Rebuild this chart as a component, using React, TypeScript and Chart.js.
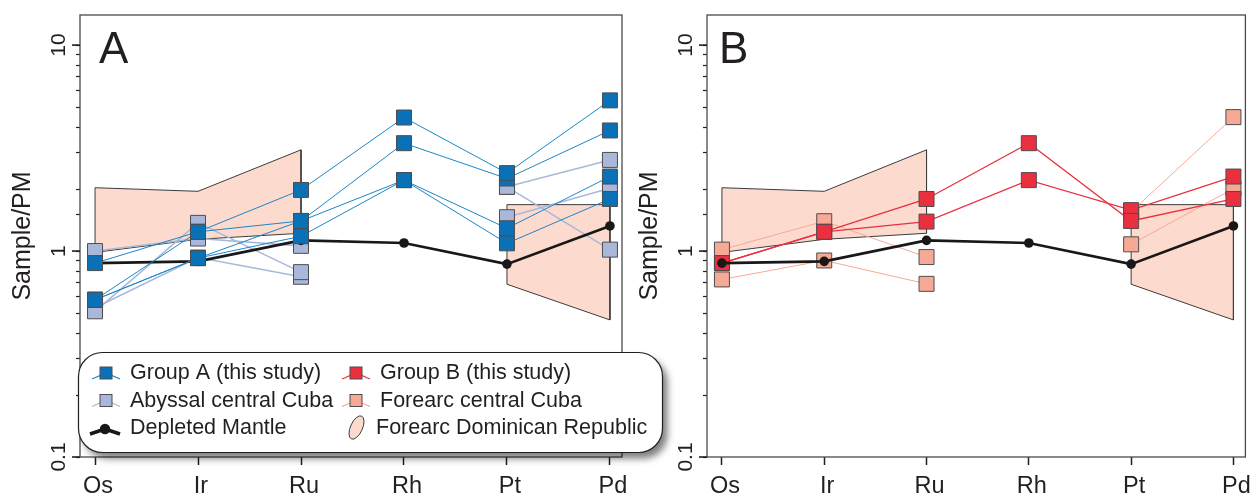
import React, { useEffect, useRef } from 'react';
import { Chart, registerables } from 'chart.js';
Chart.register(...registerables);

// ---------- data ----------
const elements = ['Os', 'Ir', 'Ru', 'Rh', 'Pt', 'Pd'];
const yTickValues = [0.1, 1, 10];
const yTickLabels = ['0.1', '1', '10'];

// Panel A – Group A (this study)
const groupA1 = [0.874, 1.24, 1.98, 4.45, 2.39, 5.39];
const groupA2 = [0.58, 1.24, 1.4, 3.34, 2.25, 3.85];
const groupA3 = [0.58, 0.924, 1.4, 2.21, 1.29, 2.3];
const groupA4 = [0.58, 0.924, 1.18, 2.21, 1.09, 1.79];
// Panel A – Abyssal central Cuba
const abyssal1 = [1.0, 1.15, 1.06, null, 2.05, 2.77];
const abyssal2 = [0.51, 1.37, 0.79, null, 2.05, 1.016];
const abyssal3 = [0.53, 0.93, 0.75, null, 1.46, 2.02];
// Panel B – Group B (this study)
const groupB1 = [0.874, 1.24, 1.79, 3.34, 1.4, 1.79];
const groupB2 = [0.874, 1.24, 1.39, 2.21, 1.58, 2.3];
// Panel B – Forearc central Cuba
const forearc1 = [1.016, 1.396, 0.935, null, 1.55, 4.47];
const forearc2 = [0.728, 0.9, 0.693, null, 1.078, 2.01];
// Depleted Mantle
const depletedMantle = [0.874, 0.891, 1.127, 1.094, 0.864, 1.324];
// Forearc Dominican Republic field
const dominicanLeftIdx = [0, 1, 2];
const dominicanLeftUpper = [2.03, 1.95, 3.1];
const dominicanLeftLower = [0.985, 1.14, 1.22];
const dominicanRightIdx = [4, 5];
const dominicanRightUpper = [1.68, 1.68];
const dominicanRightLower = [0.69, 0.463];

// ---------- styles ----------
const TEXT = '#231F20';
const FONT = '"Liberation Sans", Arial, sans-serif';
const BLUE = '#0B71B6';
const BLUE_LINE = '#1B87C8';
const ABYSSAL = '#A9B8DA';
const RED = '#EA303E';
const SALMON = '#F6A995';
const BAND = '#FCDBCE';
const DM = '#1A1718';
const MARKER_EDGE = '#4D4D4F';

const toPts = (arr: (number | null)[]) => arr.map((v, i) => ({ x: i, y: v }));

function sampleDs(values: (number | null)[], fill: string, line: string, lw: number, order: number) {
  return {
    data: toPts(values),
    borderColor: line,
    borderWidth: lw,
    backgroundColor: fill,
    pointBackgroundColor: fill,
    pointBorderColor: MARKER_EDGE,
    pointBorderWidth: 1,
    pointStyle: 'rect',
    pointRadius: 10.6,
    fill: false,
    spanGaps: false,
    order,
  };
}

function bandDs(idx: number[], upper: number[], lower: number[]) {
  const pts: { x: number; y: number }[] = [];
  idx.forEach((x, i) => pts.push({ x, y: upper[i] }));
  for (let i = idx.length - 1; i >= 0; i--) pts.push({ x: idx[i], y: lower[i] });
  pts.push({ x: idx[0], y: upper[0] });
  return {
    data: pts,
    borderColor: '#3C3C3C',
    borderWidth: 1,
    backgroundColor: BAND,
    fill: 'shape',
    pointRadius: 0,
    order: 10,
  };
}

function dmDs(order: number) {
  return {
    data: toPts(depletedMantle),
    borderColor: DM,
    borderWidth: 2.6,
    pointStyle: 'circle',
    pointRadius: 4.8,
    pointBackgroundColor: DM,
    pointBorderWidth: 0,
    fill: false,
    order,
  };
}

function makeScales() {
  return {
    x: {
      type: 'linear',
      min: -0.146,
      max: 5.117,
      afterBuildTicks: (s: any) => {
        s.ticks = elements.map((_, i) => ({ value: i }));
      },
      afterFit: (s: any) => {
        s.height = 38;
      },
      ticks: {
        callback: (v: any) => elements[v] ?? '',
        font: { family: FONT, size: 23.5 },
        color: TEXT,
        padding: 7,
        maxRotation: 0,
        autoSkip: false,
        labelOffset: 3,
      },
      grid: { drawOnChartArea: false, drawTicks: true, tickLength: 8, tickColor: TEXT, tickWidth: 1.5 },
      border: { display: false },
    },
    y: {
      type: 'logarithmic',
      min: 0.1,
      max: 14,
      afterBuildTicks: (s: any) => {
        s.ticks = s.ticks.filter((t: any) => t.value <= 10.0001);
      },
      afterFit: (s: any) => {
        s.width = 80;
      },
      ticks: { display: false },
      grid: { drawOnChartArea: false, drawTicks: true, tickLength: 4, tickColor: TEXT, tickWidth: 1.2 },
      border: { display: false },
      title: {
        display: true,
        text: 'Sample/PM',
        font: { family: FONT, size: 25 },
        color: TEXT,
        padding: { top: 8, bottom: 0 },
      },
    },
  };
}

function roundRectPath(ctx: CanvasRenderingContext2D, x: number, y: number, w: number, h: number, r: number) {
  ctx.beginPath();
  ctx.moveTo(x + r, y);
  ctx.lineTo(x + w - r, y);
  ctx.arcTo(x + w, y, x + w, y + r, r);
  ctx.lineTo(x + w, y + h - r);
  ctx.arcTo(x + w, y + h, x + w - r, y + h, r);
  ctx.lineTo(x + r, y + h);
  ctx.arcTo(x, y + h, x, y + h - r, r);
  ctx.lineTo(x, y + r);
  ctx.arcTo(x, y, x + r, y, r);
  ctx.closePath();
}

function squareIcon(ctx: CanvasRenderingContext2D, cx: number, cy: number, fill: string, line: string) {
  ctx.strokeStyle = line;
  ctx.lineWidth = 1.2;
  ctx.beginPath();
  ctx.moveTo(cx - 14, cy + 6);
  ctx.lineTo(cx, cy);
  ctx.lineTo(cx + 14, cy + 6);
  ctx.stroke();
  ctx.fillStyle = fill;
  ctx.fillRect(cx - 6, cy - 6, 12, 12);
  ctx.strokeStyle = MARKER_EDGE;
  ctx.lineWidth = 1;
  ctx.strokeRect(cx - 6, cy - 6, 12, 12);
}

function drawLegend(ctx: CanvasRenderingContext2D) {
  ctx.save();
  ctx.shadowColor = 'rgba(0,0,0,0.5)';
  ctx.shadowBlur = 7;
  ctx.shadowOffsetX = 5;
  ctx.shadowOffsetY = 6;
  roundRectPath(ctx, 78.5, 352.5, 584, 100, 24);
  ctx.fillStyle = '#ffffff';
  ctx.fill();
  ctx.restore();
  ctx.save();
  roundRectPath(ctx, 78.5, 352.5, 584, 100, 24);
  ctx.strokeStyle = TEXT;
  ctx.lineWidth = 1.2;
  ctx.stroke();

  const rows = [379, 406.5, 434];
  squareIcon(ctx, 106, rows[0] - 6, BLUE, BLUE_LINE);
  squareIcon(ctx, 106, rows[1] - 6, ABYSSAL, ABYSSAL);
  squareIcon(ctx, 356, rows[0] - 6, RED, RED);
  squareIcon(ctx, 356, rows[1] - 6, SALMON, SALMON);
  // Depleted mantle icon
  ctx.strokeStyle = DM;
  ctx.lineWidth = 3.5;
  ctx.lineJoin = 'round';
  ctx.beginPath();
  ctx.moveTo(90, rows[2]);
  ctx.lineTo(105, rows[2] - 5);
  ctx.lineTo(120, rows[2]);
  ctx.stroke();
  ctx.fillStyle = DM;
  ctx.beginPath();
  ctx.arc(105, rows[2] - 5, 5.2, 0, Math.PI * 2);
  ctx.fill();
  // Dominican field blob
  ctx.beginPath();
  ctx.ellipse(356.5, 427.5, 6, 12.5, 0.42, 0, Math.PI * 2);
  ctx.fillStyle = BAND;
  ctx.fill();
  ctx.strokeStyle = '#3C3C3C';
  ctx.lineWidth = 1;
  ctx.stroke();

  ctx.fillStyle = TEXT;
  ctx.font = `21.5px ${FONT}`;
  ctx.textAlign = 'left';
  ctx.textBaseline = 'alphabetic';
  ctx.fillText('Group A (this study)', 130, rows[0]);
  ctx.fillText('Abyssal central Cuba', 130, rows[1]);
  ctx.fillText('Depleted Mantle', 130, rows[2]);
  ctx.fillText('Group B (this study)', 380, rows[0]);
  ctx.fillText('Forearc central Cuba', 380, rows[1]);
  ctx.fillText('Forearc Dominican Republic', 376, rows[2]);
  ctx.restore();
}

function panelPlugin(letter: string, letterDx: number, withLegend: boolean) {
  return {
    id: 'panelDecor' + letter,
    afterDraw(chart: any) {
      const { ctx, chartArea: ca, scales } = chart;
      const y = scales.y;
      ctx.save();
      ctx.strokeStyle = '#4A4A4C';
      ctx.lineWidth = 1.3;
      ctx.strokeRect(ca.left, ca.top, ca.right - ca.left, ca.bottom - ca.top);
      ctx.strokeStyle = TEXT;
      ctx.lineWidth = 1.6;
      yTickValues.forEach((v) => {
        const py = y.getPixelForValue(v);
        ctx.beginPath();
        ctx.moveTo(ca.left - 8, py);
        ctx.lineTo(ca.left, py);
        ctx.stroke();
      });
      ctx.fillStyle = TEXT;
      ctx.font = `21px ${FONT}`;
      ctx.textAlign = 'center';
      ctx.textBaseline = 'alphabetic';
      yTickValues.forEach((v, i) => {
        const py = y.getPixelForValue(v);
        ctx.save();
        ctx.translate(ca.left - 15, py);
        ctx.rotate(-Math.PI / 2);
        ctx.fillText(yTickLabels[i], 0, 0);
        ctx.restore();
      });
      ctx.font = `44px ${FONT}`;
      ctx.textAlign = 'left';
      ctx.fillText(letter, ca.left + letterDx, ca.top + 48);
      ctx.restore();
      if (withLegend) drawLegend(ctx);
    },
  };
}

function baseOptions(rightPad: number) {
  return {
    animation: false,
    responsive: false,
    events: [],
    layout: { padding: { left: 0, right: rightPad, top: 15, bottom: 0 } },
    plugins: { legend: { display: false }, tooltip: { enabled: false } },
    scales: makeScales(),
  };
}

export default function App() {
  const refA = useRef<HTMLCanvasElement>(null);
  const refB = useRef<HTMLCanvasElement>(null);

  useEffect(() => {
    const chartA = new Chart(refA.current as HTMLCanvasElement, {
      type: 'line',
      data: {
        datasets: [
          sampleDs(groupA1, BLUE, BLUE_LINE, 1, 1),
          sampleDs(groupA2, BLUE, BLUE_LINE, 1, 1),
          sampleDs(groupA3, BLUE, BLUE_LINE, 1, 1),
          sampleDs(groupA4, BLUE, BLUE_LINE, 1, 1),
          dmDs(3),
          sampleDs(abyssal1, ABYSSAL, ABYSSAL, 1.6, 5),
          sampleDs(abyssal2, ABYSSAL, ABYSSAL, 1.6, 5),
          sampleDs(abyssal3, ABYSSAL, ABYSSAL, 1.6, 5),
          bandDs(dominicanLeftIdx, dominicanLeftUpper, dominicanLeftLower),
          bandDs(dominicanRightIdx, dominicanRightUpper, dominicanRightLower),
        ] as any,
      },
      options: baseOptions(58) as any,
      plugins: [panelPlugin('A', 19, true)],
    });
    const chartB = new Chart(refB.current as HTMLCanvasElement, {
      type: 'line',
      data: {
        datasets: [
          dmDs(1),
          sampleDs(groupB1, RED, RED, 1.3, 3),
          sampleDs(groupB2, RED, RED, 1.3, 3),
          sampleDs(forearc1, SALMON, SALMON, 1, 5),
          sampleDs(forearc2, SALMON, SALMON, 1, 5),
          bandDs(dominicanLeftIdx, dominicanLeftUpper, dominicanLeftLower),
          bandDs(dominicanRightIdx, dominicanRightUpper, dominicanRightLower),
        ] as any,
      },
      options: baseOptions(8) as any,
      plugins: [panelPlugin('B', 12, false)],
    });
    return () => {
      chartA.destroy();
      chartB.destroy();
    };
  }, []);

  return (
    <div style={{ position: 'absolute', left: 0, top: 0, width: 1257, height: 495, background: '#ffffff' }}>
      <canvas ref={refB} width={630} height={495} style={{ position: 'absolute', left: 627, top: 0 }} />
      <canvas ref={refA} width={680} height={495} style={{ position: 'absolute', left: 0, top: 0 }} />
    </div>
  );
}
